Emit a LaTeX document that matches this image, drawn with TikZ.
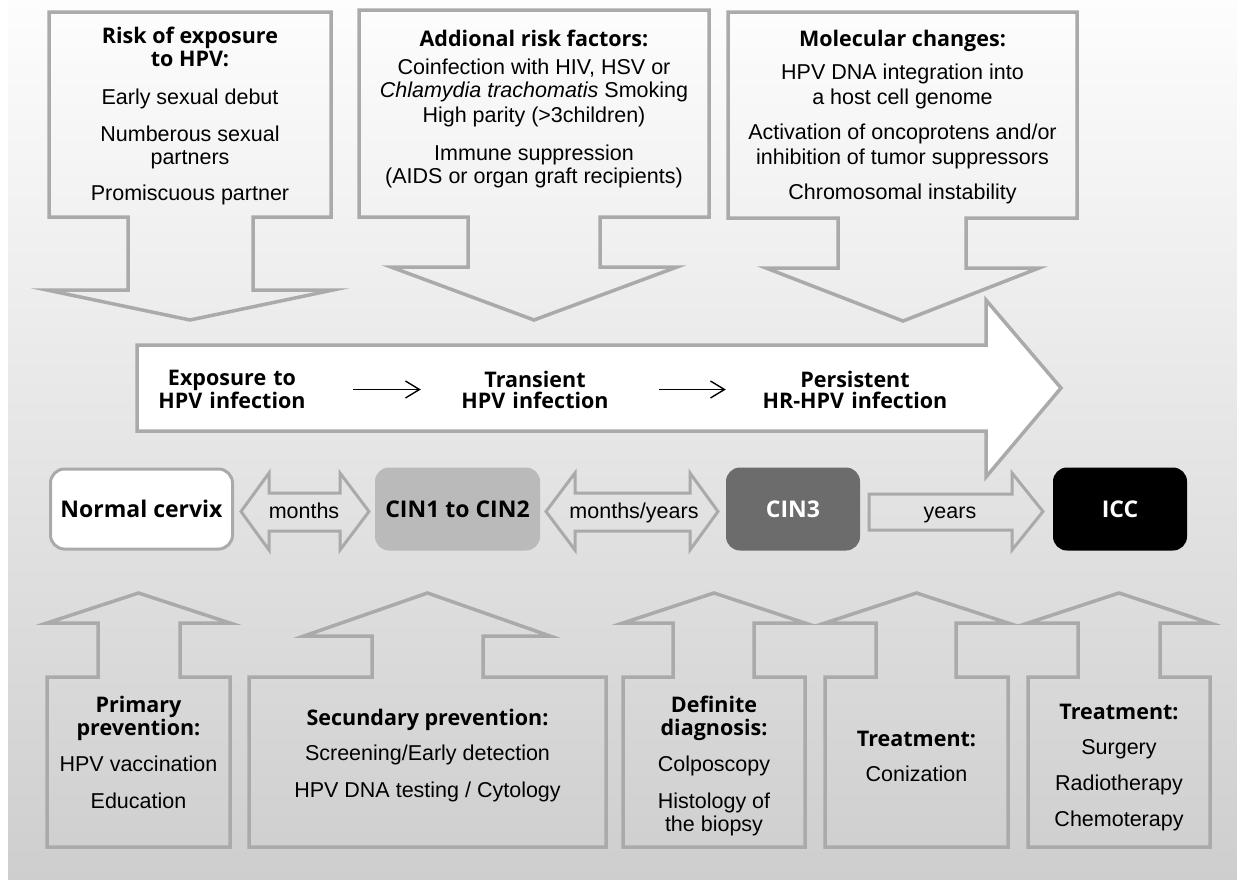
\documentclass[tikz,border=0pt]{standalone}
\usepackage{fontspec}
\setmainfont{Liberation Sans}
\newfontfamily\headfont{Open Sans}
\usepackage{tikz}
\usetikzlibrary{arrows.meta}
\usetikzlibrary{calc}
\usetikzlibrary{positioning}

\definecolor{bgtop}{RGB}{253,253,253}
\definecolor{bgbottom}{RGB}{206,206,206}
\definecolor{framegray}{RGB}{170,170,170}
\definecolor{cinlight}{RGB}{186,186,186}
\definecolor{cindark}{RGB}{108,108,108}

\tikzset{
  calloutline/.style={draw=framegray, line width=3.5pt, line join=miter},
  bodytext/.style={align=center, inner sep=0pt, font=\fontsize{21.5}{23}\selectfont},
  flowlabel/.style={inner sep=0pt, text height=15pt, text depth=0pt, font=\fontsize{21.5}{23}\selectfont},
  infection/.style={align=center, inner sep=0pt, text width=180pt, font=\headfont\bfseries\fontsize{21.5}{21}\selectfont},
  stage/.style={rounded corners=14pt, inner sep=0pt, minimum height=83pt, text height=16.4pt, text depth=0pt, font=\headfont\bfseries\fontsize{23}{25}\selectfont},
  smallarrow/.style={line width=1.4pt, -{Straight Barb[length=14pt, width=17pt]}},
}
\newcommand{\hd}[1]{{\headfont\bfseries #1}}

\begin{document}
\begin{tikzpicture}[x=1pt, y=-1pt]
            \useasboundingbox (0,0) rectangle (1237,879);
            \shade[top color=bgtop, bottom color=bgbottom] (8,0) rectangle (1237,879);

            % risk factors, pointing down
            \draw[calloutline] (49,12) -- (331,12) -- (331,217) -- (253,217) -- (253,290) -- (333,290) -- (190,320) -- (47,290) -- (128,290) -- (128,217) -- (49,217) -- cycle;
            \draw[calloutline] (359,10) -- (709,10) -- (709,217) -- (600,217) -- (600,267) -- (677,267) -- (534,320) -- (391,267) -- (468,267) -- (468,217) -- (359,217) -- cycle;
            \draw[calloutline] (728,12) -- (1077,12) -- (1077,218) -- (966,218) -- (966,268) -- (1039,268) -- (903,321) -- (766,268) -- (838,268) -- (838,218) -- (728,218) -- cycle;

            \draw (190,116) node[bodytext]   (riskexp) {\hd{Risk of exposure}\\\hd{to HPV:}\\[15pt]Early sexual debut\\[14pt]Numberous sexual\\partners\\[13pt]Promiscuous partner};
            \draw (534,108.5) node[bodytext] (riskadd) {\hd{Addional risk factors:}\\[5pt]Coinfection with HIV, HSV or\\\textit{Chlamydia trachomatis} Smoking\\[2pt]High parity (>3children)\\[15pt]Immune suppression\\(AIDS or organ graft recipients)};
            \draw (902.5,117) node[bodytext] (molec) {\hd{Molecular changes:}\\[10pt]HPV DNA integration into\\[2pt]a host cell genome\\[12pt]Activation of oncoprotens and/or\\[2pt]inhibition of tumor suppressors\\[12pt]Chromosomal instability};

            % infection course
            \draw[calloutline, fill=white] (137,345) -- (986,345) -- (986,300) -- (1061,388) -- (986,477) -- (986,431) -- (137,431) -- cycle;
            \draw (232,389.5) node[infection]                  (expo)  {Exposure to\\HPV infection};
            \draw (535,389.5) node[infection]                  (trans) {Transient\\HPV infection};
            \draw (855,389.5) node[infection, text width=190pt] (pers)  {Persistent\\HR-HPV infection};
            \draw[smallarrow, shorten <=31pt, shorten >=24pt] (expo) -- (trans);
            \draw[smallarrow, shorten <=34pt, shorten >=34pt] (trans) -- (pers);

            % lesions
            \draw (141.5,509) node[stage, draw=framegray, line width=3pt, fill=white, minimum width=182pt, minimum height=80pt] (normal) {Normal cervix};
            \draw (457.5,509) node[stage, fill=cinlight, minimum width=165pt]              (cin12)  {CIN1 to CIN2};
            \draw (793,509)   node[stage, fill=cindark, text=white, minimum width=134pt]   (cin3)   {CIN3};
            \draw (1120,509)  node[stage, fill=black, text=white, minimum width=134pt]     (icc)    {ICC};

            \draw[calloutline, line width=3pt] (241,511.5) -- (269,473) -- (269,493) -- (340,493) -- (340,473) -- (369,511.5) -- (340,550) -- (340,531) -- (269,531) -- (269,550) -- cycle;
            \draw[calloutline, line width=3pt] (546,511.5) -- (575,473) -- (575,493) -- (690,493) -- (690,473) -- (718,511.5) -- (690,550) -- (690,531) -- (575,531) -- (575,550) -- cycle;
            \draw[calloutline, line width=3pt] (869,494) -- (1012,494) -- (1012,473) -- (1043,511.5) -- (1012,550) -- (1012,530) -- (869,530) -- cycle;
            \draw (304,510.5) node[flowlabel] (months)  {months};
            \draw (634,510.5) node[flowlabel] (monyear) {months/years};
            \draw (950,510.5) node[flowlabel] (years)   {years};

            % prevention and treatment, pointing up
            \draw[calloutline] (47,847) -- (47,677) -- (98,677) -- (98,623) -- (47,623) -- (138.5,593) -- (230,623) -- (180,623) -- (180,677) -- (230,677) -- (230,847) -- cycle;
            \draw[calloutline] (249,847) -- (249,677) -- (372,677) -- (372,636) -- (304,636) -- (427.5,593) -- (550,636) -- (483,636) -- (483,677) -- (606,677) -- (606,847) -- cycle;
            \draw[calloutline] (623,847) -- (623,677) -- (673,677) -- (673,623) -- (623,623) -- (714,593) -- (805,623) -- (754,623) -- (754,677) -- (805,677) -- (805,847) -- cycle;
            \draw[calloutline] (825,847) -- (825,677) -- (876,677) -- (876,623) -- (825,623) -- (916.5,593) -- (1008,623) -- (956,623) -- (956,677) -- (1008,677) -- (1008,847) -- cycle;
            \draw[calloutline] (1028,847) -- (1028,677) -- (1078,677) -- (1078,623) -- (1028,623) -- (1119,593) -- (1210,623) -- (1160,623) -- (1160,677) -- (1210,677) -- (1210,847) -- cycle;

            \draw (138.5,752.5) node[bodytext] (primprev) {\hd{Primary}\\\hd{prevention:}\\[13pt]HPV vaccination\\[14pt]Education};
            \draw (427.5,756)   node[bodytext] (secprev)  {\hd{Secundary prevention:}\\[12pt]Screening/Early detection\\[14pt]HPV DNA testing / Cytology};
            \draw (714,766)     node[bodytext] (diagn)    {\hd{Definite}\\\hd{diagnosis:}\\[13pt]Colposcopy\\[14pt]Histology of\\the biopsy};
            \draw (916.5,756.5) node[bodytext] (treatcin) {\hd{Treatment:}\\[12pt]Conization};
            \draw (1119,767.5)  node[bodytext] (treaticc) {\hd{Treatment:}\\[12pt]Surgery\\[13pt]Radiotherapy\\[13pt]Chemoterapy};

\end{tikzpicture}
\end{document}
